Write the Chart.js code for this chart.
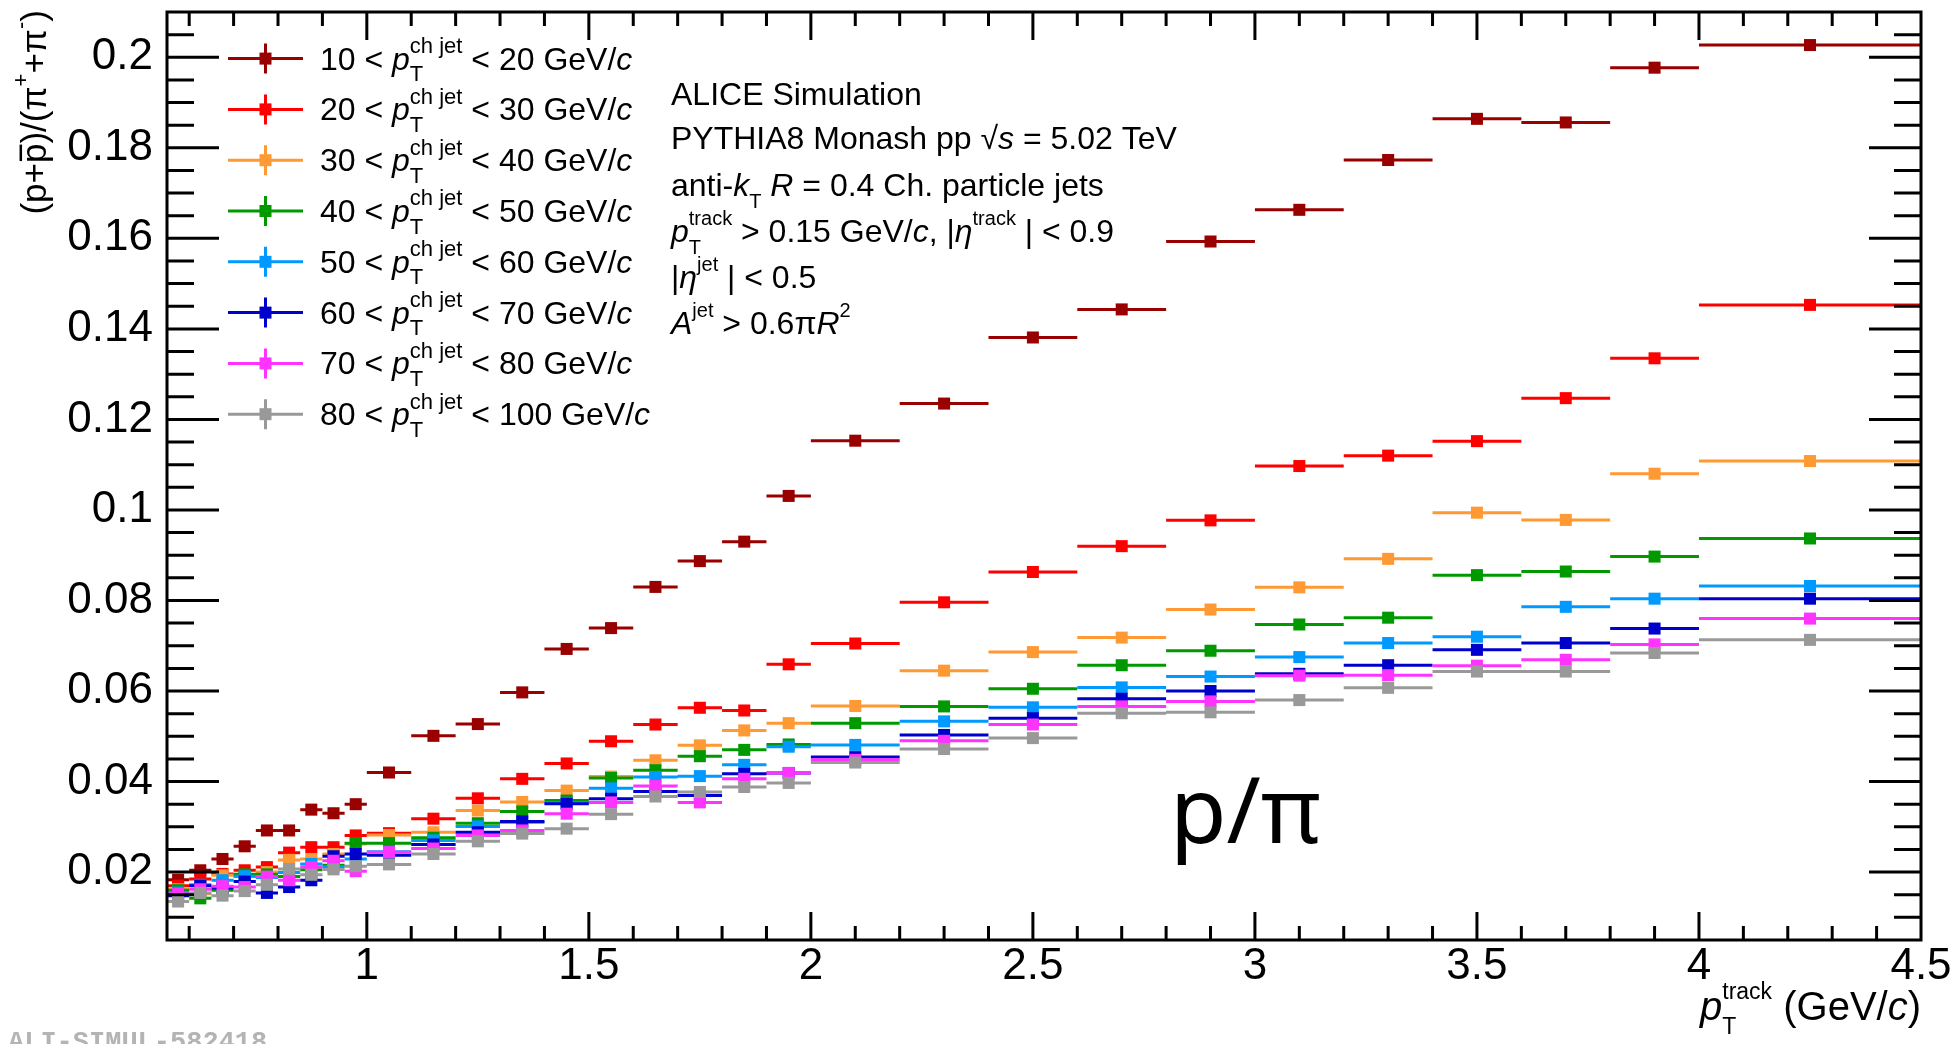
<!DOCTYPE html>
<html>
<head>
<meta charset="utf-8">
<script src="https://cdn.jsdelivr.net/npm/chart.js@4.4.1/dist/chart.umd.min.js"></script>
<style>
  html, body { margin: 0; padding: 0; background: #fff; }
</style>
</head>
<body>
<canvas id="chart" width="1956" height="1044"></canvas>
<script>
// track pT bins (GeV/c)
const binCenters = [0.575, 0.625, 0.675, 0.725, 0.775, 0.825, 0.875, 0.925, 0.975,
  1.05, 1.15, 1.25, 1.35, 1.45, 1.55, 1.65, 1.75, 1.85, 1.95,
  2.1, 2.3, 2.5, 2.7, 2.9, 3.1, 3.3, 3.5, 3.7, 3.9, 4.25];
const binHalfWidths = [0.025, 0.025, 0.025, 0.025, 0.025, 0.025, 0.025, 0.025, 0.025,
  0.05, 0.05, 0.05, 0.05, 0.05, 0.05, 0.05, 0.05, 0.05, 0.05,
  0.1, 0.1, 0.1, 0.1, 0.1, 0.1, 0.1, 0.1, 0.1, 0.1, 0.25];

// (p+pbar)/(pi+ + pi-) per jet pT interval
const ratio10to20 = [0.0183, 0.0204, 0.0229, 0.0257, 0.0292, 0.0292, 0.0338, 0.0330, 0.0350,
  0.0420, 0.0501, 0.0527, 0.0597, 0.0693, 0.0739, 0.0830, 0.0887, 0.0930, 0.1031,
  0.1153, 0.1235, 0.1381, 0.1443, 0.1593, 0.1663, 0.1773, 0.1864, 0.1856, 0.1977, 0.2027];
const ratio20to30 = [0.0170, 0.0185, 0.0196, 0.0204, 0.0211, 0.0243, 0.0255, 0.0255, 0.0281,
  0.0286, 0.0318, 0.0363, 0.0406, 0.0440, 0.0489, 0.0526, 0.0563, 0.0557, 0.0659,
  0.0705, 0.0796, 0.0863, 0.0920, 0.0977, 0.1097, 0.1120, 0.1152, 0.1247, 0.1335, 0.1453];
const ratio30to40 = [0.0162, 0.0152, 0.0193, 0.0190, 0.0200, 0.0227, 0.0229, 0.0240, 0.0262,
  0.0282, 0.0288, 0.0336, 0.0355, 0.0380, 0.0411, 0.0447, 0.0480, 0.0513, 0.0529,
  0.0567, 0.0645, 0.0686, 0.0718, 0.0780, 0.0829, 0.0892, 0.0994, 0.0978, 0.1080, 0.1108];
const ratio40to50 = [0.0160, 0.0142, 0.0160, 0.0195, 0.0195, 0.0190, 0.0205, 0.0215, 0.0264,
  0.0264, 0.0276, 0.0308, 0.0334, 0.0358, 0.0408, 0.0425, 0.0456, 0.0470, 0.0482,
  0.0529, 0.0566, 0.0605, 0.0657, 0.0689, 0.0747, 0.0762, 0.0856, 0.0864, 0.0897, 0.0937];
const ratio50to60 = [0.0155, 0.0172, 0.0182, 0.0191, 0.0188, 0.0199, 0.0218, 0.0212, 0.0229,
  0.0245, 0.0270, 0.0301, 0.0310, 0.0353, 0.0385, 0.0410, 0.0412, 0.0437, 0.0477,
  0.0481, 0.0533, 0.0564, 0.0608, 0.0632, 0.0675, 0.0706, 0.0720, 0.0786, 0.0804, 0.0832];
const ratio60to70 = [0.0148, 0.0170, 0.0165, 0.0179, 0.0154, 0.0167, 0.0182, 0.0235, 0.0240,
  0.0237, 0.0261, 0.0288, 0.0312, 0.0351, 0.0362, 0.0378, 0.0369, 0.0417, 0.0419,
  0.0454, 0.0503, 0.0540, 0.0583, 0.0600, 0.0638, 0.0657, 0.0691, 0.0706, 0.0738, 0.0804];
const ratio70to80 = [0.0152, 0.0162, 0.0169, 0.0167, 0.0190, 0.0182, 0.0211, 0.0225, 0.0202,
  0.0244, 0.0252, 0.0281, 0.0292, 0.0329, 0.0354, 0.0390, 0.0354, 0.0406, 0.0419,
  0.0448, 0.0490, 0.0526, 0.0566, 0.0577, 0.0634, 0.0635, 0.0656, 0.0669, 0.0703, 0.0760];
const ratio80to100 = [0.0135, 0.0154, 0.0148, 0.0158, 0.0172, 0.0207, 0.0194, 0.0206, 0.0213,
  0.0217, 0.0240, 0.0268, 0.0285, 0.0296, 0.0328, 0.0367, 0.0377, 0.0388, 0.0397,
  0.0442, 0.0472, 0.0496, 0.0551, 0.0553, 0.0580, 0.0607, 0.0643, 0.0643, 0.0684, 0.0713];

const jetLow = [10, 20, 30, 40, 50, 60, 70, 80];
const jetHigh = [20, 30, 40, 50, 60, 70, 80, 100];
const seriesColors = ["#990000", "#ff0000", "#ff9933", "#009900", "#0099ff", "#0000cc", "#ff33ff", "#999999"];
const allRatios = [ratio10to20, ratio20to30, ratio30to40, ratio40to50,
  ratio50to60, ratio60to70, ratio70to80, ratio80to100];

const xTickValues = [1, 1.5, 2, 2.5, 3, 3.5, 4, 4.5];
const yTickValues = [0.02, 0.04, 0.06, 0.08, 0.1, 0.12, 0.14, 0.16, 0.18, 0.2];

const FONT = '"Liberation Sans", Arial, Helvetica, sans-serif';

// draws text pieces: plain string, {t, it}, or {sup, sub} stacked
function richText(ctx, x, y, parts, size, draw, supRatio) {
  const r = supRatio || 0.64;
  let cx = x;
  parts.forEach(p => {
    if (typeof p === "string") p = { t: p };
    if (p.t !== undefined) {
      ctx.font = (p.it ? "italic " : "") + size + "px " + FONT;
      if (draw) ctx.fillText(p.t, cx, y);
      cx += ctx.measureText(p.t).width;
    } else {
      const s = Math.round(size * r);
      ctx.font = s + "px " + FONT;
      let w = 0;
      if (p.sup) {
        if (draw) ctx.fillText(p.sup, cx, y - size * 0.52);
        w = ctx.measureText(p.sup).width;
      }
      if (p.sub) {
        if (draw) ctx.fillText(p.sub, cx, y + size * 0.36);
        w = Math.max(w, ctx.measureText(p.sub).width);
      }
      cx += w;
    }
  });
  return cx - x;
}

// horizontal bin-width bars, drawn before each dataset's markers
const binBars = {
  id: "binBars",
  beforeDatasetDraw(chart, args) {
    const ds = chart.data.datasets[args.index];
    const { ctx, chartArea: a, scales: { x, y } } = chart;
    ctx.save();
    ctx.beginPath();
    ctx.rect(a.left, a.top, a.right - a.left, a.bottom - a.top);
    ctx.clip();
    ctx.strokeStyle = ds.backgroundColor;
    ctx.lineWidth = 3;
    ctx.beginPath();
    ds.data.forEach(p => {
      const py = y.getPixelForValue(p.y);
      ctx.moveTo(x.getPixelForValue(p.x - p.xe), py);
      ctx.lineTo(x.getPixelForValue(p.x + p.xe), py);
    });
    ctx.stroke();
    ctx.restore();
  }
};

// ROOT-like frame, inner ticks, legend and labels
const rootDecor = {
  id: "rootDecor",
  afterDraw(chart) {
    const { ctx, chartArea: a, scales: { x, y } } = chart;
    ctx.save();
    ctx.strokeStyle = "#000";
    ctx.lineWidth = 3;
    ctx.strokeRect(a.left, a.top, a.right - a.left, a.bottom - a.top);

    ctx.beginPath();
    for (let k = 6; k <= 44; k++) {
      const px = x.getPixelForValue(k / 10);
      const len = k % 5 === 0 ? 28 : 14;
      ctx.moveTo(px, a.bottom); ctx.lineTo(px, a.bottom - len);
      ctx.moveTo(px, a.top); ctx.lineTo(px, a.top + len);
    }
    for (let k = 2; k <= 41; k++) {
      const py = y.getPixelForValue(k * 0.005);
      const len = k % 4 === 0 ? 52 : 27;
      ctx.moveTo(a.left, py); ctx.lineTo(a.left + len, py);
      ctx.moveTo(a.right, py); ctx.lineTo(a.right - len, py);
    }
    ctx.stroke();

    // legend
    ctx.fillStyle = "#000";
    ctx.textBaseline = "alphabetic";
    ctx.textAlign = "left";
    jetLow.forEach((lo, i) => {
      const cy = 58.6 + i * 50.8;
      ctx.strokeStyle = seriesColors[i];
      ctx.lineWidth = 3;
      ctx.beginPath();
      ctx.moveTo(228, cy); ctx.lineTo(303, cy);
      ctx.moveTo(265.5, cy - 15); ctx.lineTo(265.5, cy + 15);
      ctx.stroke();
      ctx.fillStyle = seriesColors[i];
      ctx.fillRect(259.5, cy - 6, 12, 12);
      ctx.fillStyle = "#000";
      richText(ctx, 320, cy + 11, [lo + " < ", { t: "p", it: true }, { sup: "ch jet", sub: "T" },
        " < " + jetHigh[i] + " GeV/", { t: "c", it: true }], 32, true, 0.68);
    });

    // info text
    const tx = 671, ts = 32;
    richText(ctx, tx, 105, ["ALICE Simulation"], ts, true);
    richText(ctx, tx, 149, ["PYTHIA8 Monash pp ", "\u221A", { t: "s", it: true }, " = 5.02 TeV"], ts, true);
    richText(ctx, tx, 196, ["anti-", { t: "k", it: true }, { sub: "T" }, " ", { t: "R", it: true },
      " = 0.4 Ch. particle jets"], ts, true);
    richText(ctx, tx, 242, [{ t: "p", it: true }, { sup: "track", sub: "T" }, " > 0.15 GeV/", { t: "c", it: true },
      ", |", { t: "\u03B7", it: true }, { sup: "track" }, " | < 0.9"], ts, true);
    richText(ctx, tx, 288, ["|", { t: "\u03B7", it: true }, { sup: "jet" }, " | < 0.5"], ts, true);
    richText(ctx, tx, 334, [{ t: "A", it: true }, { sup: "jet" }, " > 0.6\u03C0", { t: "R", it: true }, { sup: "2" }], ts, true);

    // x axis title, right aligned
    const xt = [{ t: "p", it: true }, { sup: "track", sub: "T" }, " (GeV/", { t: "c", it: true }, ")"];
    const xw = richText(ctx, 0, 0, xt, 40, false, 0.58);
    richText(ctx, a.right - xw, 1020, xt, 40, true, 0.58);

    // y axis title, rotated, right aligned to top
    const yt = ["(p+", "p", ")/(\u03C0", { sup: "+" }, "+\u03C0", { sup: "-" }, ")"];
    const ys = 35;
    const yw = richText(ctx, 0, 0, yt, ys, false);
    ctx.save();
    ctx.translate(46, a.top - 2);
    ctx.rotate(-Math.PI / 2);
    richText(ctx, -yw, 0, yt, ys, true);
    ctx.font = ys + "px " + FONT;
    const pStart = -yw + ctx.measureText("(p+").width;
    const pW = ctx.measureText("p").width;
    ctx.lineWidth = 2.5;
    ctx.strokeStyle = "#000";
    ctx.beginPath();
    ctx.moveTo(pStart + 2, -ys * 0.72); ctx.lineTo(pStart + pW - 1, -ys * 0.72);
    ctx.stroke();
    ctx.restore();

    // p/pi label
    ctx.font = '92px "Noto Sans", "Open Sans", sans-serif';
    ctx.fillText("p/\u03C0", 1170, 843);

    // watermark
    ctx.font = 'bold 27px "Liberation Mono", "DejaVu Sans Mono", monospace';
    ctx.fillStyle = "#b4b4b4";
    ctx.fillText("ALI-SIMUL-582418", 8, 1050);
    ctx.restore();
  }
};

const datasets = allRatios.map((vals, i) => ({
  label: jetLow[i] + " < pT < " + jetHigh[i] + " GeV/c",
  data: vals.map((v, j) => ({ x: binCenters[j], y: v, xe: binHalfWidths[j] })),
  backgroundColor: seriesColors[i],
  borderColor: seriesColors[i],
  pointStyle: "rect",
  pointRadius: 8.5,
  pointBorderWidth: 0,
  showLine: false,
  order: allRatios.length - 1 - i
}));

const ctx = document.getElementById("chart").getContext("2d");
new Chart(ctx, {
  type: "scatter",
  data: { datasets: datasets },
  options: {
    responsive: false,
    animation: false,
    events: [],
    layout: { padding: { left: 0, top: 12, right: 35, bottom: 0 } },
    plugins: { legend: { display: false }, tooltip: { enabled: false } },
    scales: {
      x: {
        type: "linear", min: 0.55, max: 4.5,
        afterBuildTicks: s => { s.ticks = xTickValues.map(v => ({ value: v })); },
        afterFit: s => { s.height = 104; s.paddingLeft = 0; s.paddingRight = 0; },
        grid: { display: false, drawTicks: false },
        border: { display: false },
        ticks: { autoSkip: false, maxRotation: 0, padding: 0, color: "#000",
          font: { family: FONT, size: 44 }, callback: v => String(v) }
      },
      y: {
        type: "linear", min: 0.005, max: 0.21,
        afterBuildTicks: s => { s.ticks = yTickValues.map(v => ({ value: v })); },
        afterFit: s => { s.width = 167; s.paddingTop = 0; s.paddingBottom = 0; },
        grid: { display: false, drawTicks: false },
        border: { display: false },
        ticks: { autoSkip: false, padding: 14, color: "#000",
          font: { family: FONT, size: 44 }, callback: v => String(parseFloat(v.toFixed(3))) }
      }
    }
  },
  plugins: [binBars, rootDecor]
});
</script>
</body>
</html>
